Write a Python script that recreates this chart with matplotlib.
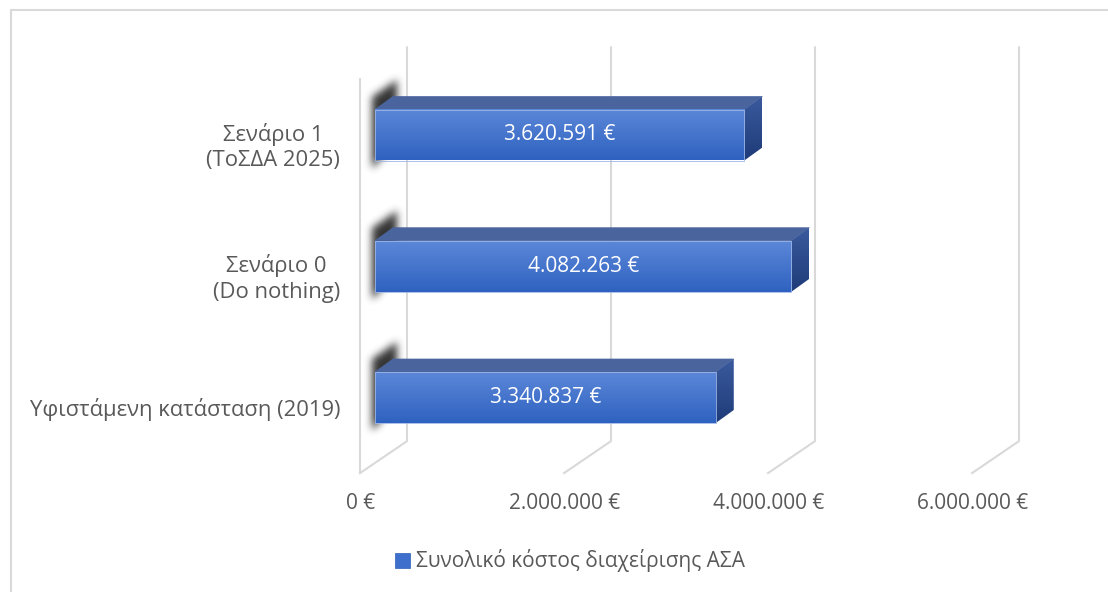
import numpy as np
import matplotlib.pyplot as plt
from matplotlib.patches import Polygon, Rectangle
from matplotlib.lines import Line2D
from matplotlib.path import Path
from matplotlib.colors import to_rgb

plt.rcParams['font.family'] = ['Open Sans', 'DejaVu Sans']

# Data
categories = ["Υφιστάμενη κατάσταση (2019)", "Σενάριο 0\n(Do nothing)", "Σενάριο 1\n(ΤοΣΔΑ 2025)"]
costs = [3340837, 4082263, 3620591]
value_labels = ["3.340.837 €", "4.082.263 €", "3.620.591 €"]
x_ticks = [0, 2000000, 4000000, 6000000]
x_tick_labels = ["0 €", "2.000.000 €", "4.000.000 €", "6.000.000 €"]
series_name = "Συνολικό κόστος διαχείρισης ΑΣΑ"

W, H = 1108, 592
grid_col = "#d9d9d9"
text_col = "#595959"
font_size = 15

fig = plt.figure(figsize=(W / 100, H / 100), dpi=100)
# axes lie in the plane of the bar fronts
ax = fig.add_axes([375 / W, (H - 528.75) / H, 612 / W, 525 / H])
ax.set_xlim(0, 6000000)
ax.set_ylim(-1, 3)
ax.axis("off")

# data units per display pixel, used for the 3-D depth offsets
sx = 6000000 / ax.bbox.width
sy = 4 / ax.bbox.height


def off(x, y, dx, dy):
    return x + dx * sx, y + dy * sy


floor, top = -0.5, 2.5
front = (-15, -10)   # front edge of floor / left wall
back = (32, 22)      # back wall
depth = (18, 13)     # bar depth
bar_h = 51 / 131.25

# chart area border
fig.add_artist(Line2D([11 / W, 11 / W, 1.0], [0.0, (H - 10) / H, (H - 10) / H],
                      color=grid_col, lw=1.5))

# back wall gridlines and floor diagonals
for t in x_ticks:
    bx, by0 = off(t, floor, *back)
    _, by1 = off(t, top, *back)
    fx, fy = off(t, floor, *front)
    ax.plot([bx, bx, fx], [by1, by0, fy], color=grid_col, lw=1.5,
            zorder=0, clip_on=False)

# left wall front edge
fx, fy0 = off(0, floor, *front)
_, fy1 = off(0, top, *front)
ax.plot([fx, fx], [fy0, fy1], color=grid_col, lw=1.5, zorder=0, clip_on=False)


def gradient(c1, c2, n=64):
    a, b = np.array(to_rgb(c1)), np.array(to_rgb(c2))
    return np.linspace(a, b, n)[:, None, :]


# blurred shadow sprite, in pixel offsets from a bar's top-left front corner
sh_x = np.arange(-20, 41)
sh_y = np.arange(50, -91, -1)
gx, gy = np.meshgrid(sh_x, sh_y)
sh_poly = Path([(-4, 12), (22, 30), (22, -30), (-4, -60)])
mask = sh_poly.contains_points(np.c_[gx.ravel(), gy.ravel()]).reshape(gx.shape).astype(float)
k = np.exp(-0.5 * (np.arange(-10, 11) / 4.0) ** 2)
k /= k.sum()
mask = np.apply_along_axis(lambda r: np.convolve(r, k, mode="same"), 1, mask)
mask = np.apply_along_axis(lambda c: np.convolve(c, k, mode="same"), 0, mask)
shadow = np.zeros(mask.shape + (4,))
shadow[..., :3] = 0.12
shadow[..., 3] = np.clip(mask * 0.9, 0, 1)

for i, (v, lab) in enumerate(zip(costs, value_labels)):
    y0, y1 = i - bar_h / 2, i + bar_h / 2

    # soft shadow on the left wall
    l, t_ = off(0, y1, sh_x[0] - 0.5, sh_y[0] + 0.5)
    r, b = off(0, y1, sh_x[-1] + 0.5, sh_y[-1] - 0.5)
    ax.imshow(shadow, extent=(l, r, b, t_), aspect="auto", origin="upper",
              zorder=1, clip_on=False, interpolation="bilinear")

    # front face
    ax.imshow(gradient("#5b87d8", "#2f62c0"), extent=(0, v, y0, y1),
              aspect="auto", zorder=3, origin="upper", clip_on=False)
    ax.add_patch(Rectangle((0, y0), v, bar_h, fc="none", ec="#9db5e6", lw=0.6, zorder=4))

    # top face
    ax.add_patch(Polygon([(0, y1), (v, y1), off(v, y1, *depth), off(0, y1, *depth)],
                         closed=True, fc="#4a649e", ec="#4a649e", lw=0.5, zorder=2,
                         clip_on=False))

    # side face
    side = Polygon([(v, y0), (v, y1), off(v, y1, *depth), off(v, y0, *depth)],
                   closed=True, fc="none", ec="none", zorder=2)
    ax.add_patch(side)
    sim = ax.imshow(gradient("#3a5a9e", "#1f3b78"),
                    extent=(v, off(v, 0, *depth)[0], y0, off(0, y1, *depth)[1]),
                    aspect="auto", zorder=2, origin="upper")
    sim.set_clip_path(side)

    ax.text(v / 2, i, lab, color="white", ha="center", va="center",
            fontsize=font_size, zorder=5)

    ax.annotate(categories[i], (0, i), xytext=(-35, -12), textcoords="offset pixels",
                ha="right", va="center", multialignment="center",
                color=text_col, fontsize=15.8, linespacing=1.3)

for t, lab in zip(x_ticks, x_tick_labels):
    ax.annotate(lab, (t, floor), xytext=(-14, -40), textcoords="offset pixels",
                ha="center", va="center", color=text_col, fontsize=font_size)

handle = Rectangle((0, 0), 1, 1, fc="#3f6fcc", ec="#2f5fb8", lw=0.5)
fig.legend(handles=[handle], labels=[series_name], loc="center",
           bbox_to_anchor=(570 / W, (H - 561) / H), frameon=False,
           handlelength=0.75, handleheight=0.75, handletextpad=0.3,
           fontsize=font_size, labelcolor=text_col)

fig.savefig("out.png", dpi=100)
